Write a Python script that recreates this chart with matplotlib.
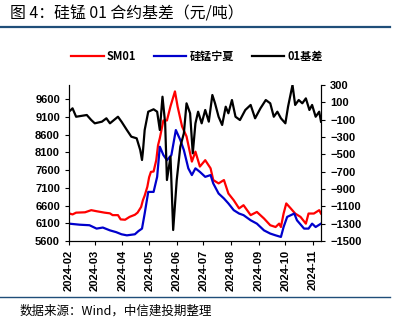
import pandas as pd
import matplotlib
matplotlib.use("Agg")
import matplotlib.pyplot as plt
import matplotlib.dates as mdates
from matplotlib.lines import Line2D

plt.rcParams['font.family'] = ['Liberation Sans', 'Noto Sans CJK SC', 'DejaVu Sans']

# SM01 futures price (left axis)
sm01_dates = ["2024-02-01", "2024-02-05", "2024-02-09", "2024-02-19", "2024-02-26", "2024-03-03",
              "2024-03-12", "2024-03-18", "2024-03-21", "2024-03-27", "2024-03-30", "2024-04-04",
              "2024-04-09", "2024-04-15", "2024-04-18", "2024-04-22", "2024-04-24", "2024-04-26",
              "2024-04-29", "2024-05-01", "2024-05-03", "2024-05-06", "2024-05-09", "2024-05-11",
              "2024-05-13", "2024-05-17", "2024-05-21", "2024-05-25", "2024-05-30", "2024-06-02",
              "2024-06-07", "2024-06-12", "2024-06-18", "2024-06-22", "2024-06-27", "2024-07-03",
              "2024-07-09", "2024-07-12", "2024-07-18", "2024-07-24", "2024-07-29", "2024-08-04",
              "2024-08-10", "2024-08-15", "2024-08-23", "2024-08-30", "2024-09-07", "2024-09-14",
              "2024-09-20", "2024-09-24", "2024-09-26", "2024-09-29", "2024-10-02", "2024-10-07",
              "2024-10-12", "2024-10-18", "2024-10-24", "2024-10-27", "2024-11-02", "2024-11-08",
              "2024-11-10"]
sm01 = [6380, 6350, 6400, 6410, 6470, 6440,
        6400, 6380, 6330, 6330, 6210, 6200,
        6280, 6340, 6400, 6560, 6750, 6880,
        7130, 7400, 7550, 7560, 7880, 8300,
        8500, 9000, 9000, 9400, 9820, 9390,
        8830, 8550, 7840, 8120, 7700, 7880,
        7650, 7320, 7225, 7320, 6940, 6750,
        6520, 6610, 6330, 6420, 6235, 6045,
        5995, 6090, 5995, 6375, 6660, 6520,
        6375, 6280, 6090, 6375, 6375, 6470,
        6375]

# Ningxia silicomanganese spot price (left axis)
spot_dates = ["2024-02-01", "2024-02-13", "2024-02-24", "2024-03-03", "2024-03-10", "2024-03-18",
              "2024-03-25", "2024-03-31", "2024-04-06", "2024-04-15", "2024-04-19", "2024-04-23",
              "2024-04-26", "2024-04-30", "2024-05-06", "2024-05-10", "2024-05-13", "2024-05-17",
              "2024-05-21", "2024-05-26", "2024-05-31", "2024-06-05", "2024-06-09", "2024-06-14",
              "2024-06-18", "2024-06-22", "2024-06-27", "2024-07-03", "2024-07-09", "2024-07-12",
              "2024-07-18", "2024-07-24", "2024-07-29", "2024-08-04", "2024-08-10", "2024-08-15",
              "2024-08-23", "2024-08-30", "2024-09-07", "2024-09-14", "2024-09-20", "2024-09-26",
              "2024-09-29", "2024-10-03", "2024-10-11", "2024-10-14", "2024-10-22", "2024-10-27",
              "2024-10-31", "2024-11-04", "2024-11-10"]
spot = [6090, 6060, 6045, 5950, 5980, 5900,
        5850, 5790, 5760, 5790, 5880, 5950,
        6375, 6985, 6985, 7410, 8260, 8025,
        7880, 8025, 8730, 8450, 8165, 7650,
        7460, 7650, 7550, 7410, 7460, 7225,
        6940, 6800, 6660, 6470, 6375, 6330,
        6185, 6090, 5900, 5810, 5760, 5715,
        5995, 6280, 6375, 6185, 5950, 5950,
        6090, 5995, 6090]

# 01 basis (right axis)
basis_dates = ["2024-02-01", "2024-02-05", "2024-02-09", "2024-02-21", "2024-02-26", "2024-03-01",
               "2024-03-09", "2024-03-14", "2024-03-18", "2024-03-27", "2024-03-31", "2024-04-06",
               "2024-04-11", "2024-04-17", "2024-04-21", "2024-04-23", "2024-04-24", "2024-04-26",
               "2024-04-30", "2024-05-06", "2024-05-10", "2024-05-13", "2024-05-16", "2024-05-19",
               "2024-05-21", "2024-05-25", "2024-05-28", "2024-06-01", "2024-06-05", "2024-06-09",
               "2024-06-12", "2024-06-16", "2024-06-19", "2024-06-22", "2024-06-25", "2024-06-29",
               "2024-07-03", "2024-07-07", "2024-07-11", "2024-07-14", "2024-07-18", "2024-07-22",
               "2024-07-26", "2024-07-29", "2024-08-02", "2024-08-06", "2024-08-11", "2024-08-17",
               "2024-08-23", "2024-08-28", "2024-09-03", "2024-09-09", "2024-09-14", "2024-09-18",
               "2024-09-22", "2024-09-26", "2024-10-01", "2024-10-04", "2024-10-09", "2024-10-12",
               "2024-10-16", "2024-10-20", "2024-10-24", "2024-10-28", "2024-10-31", "2024-11-04",
               "2024-11-08", "2024-11-10"]
basis = [-8, 31, -66, -46, -104, -142,
         -123, -84, -142, -66, -123, -219,
         -296, -315, -450, -565, -470, -219,
         -8, 20, -8, -219, 165, -142,
         -796, -527, -1373, -796, -412, -257,
         89, -26, -488, -142, -8, -142,
         12, -123, 185, 89, -66, -161,
         50, -26, 127, -66, -104, 12,
         70, -84, 31, 127, 89, -66,
         -8, -84, -142, 50, 300, 70,
         127, 89, 146, 12, 70, -66,
         -8, -123]

left_ticks = list(range(5600, 9601, 500))
right_ticks = list(range(-1500, 301, 200))

fig = plt.figure(figsize=(3.96, 3.26), dpi=100)
ax1 = fig.add_axes([0.1742, 0.2607, 0.6364, 0.4785])

ax1.plot(pd.to_datetime(sm01_dates), sm01, color='#FF0000', lw=1.6, label='SM01')
ax1.plot(pd.to_datetime(spot_dates), spot, color='#0000CC', lw=1.6, label='硅锰宁夏')
ax1.set_ylim(5600, 10000)
ax1.set_yticks(left_ticks)
ax1.set_xlim(pd.Timestamp("2024-02-01"), pd.Timestamp("2024-11-10"))

ax2 = ax1.twinx()
ax2.plot(pd.to_datetime(basis_dates), basis, color='black', lw=1.6, label='01基差')
ax2.set_ylim(-1500, 300)
ax2.set_yticks(right_ticks)

ax1.xaxis.set_major_locator(mdates.MonthLocator())
ax1.xaxis.set_major_formatter(mdates.DateFormatter('%Y-%m'))
for lab in ax1.get_xticklabels():
    lab.set_rotation(90)

for ax in (ax1, ax2):
    ax.spines['top'].set_visible(False)
    for s in ax.spines.values():
        s.set_linewidth(0.8)
    ax.tick_params(labelsize=8, length=3, width=0.8)
    for lab in ax.get_xticklabels() + ax.get_yticklabels():
        lab.set_fontweight('bold')

# legend
h1, l1 = ax1.get_legend_handles_labels()
h2, l2 = ax2.get_legend_handles_labels()
leg = fig.legend(h1 + h2, l1 + l2, loc='center', bbox_to_anchor=(0.498, 0.828), ncol=3,
                 frameon=False, handlelength=2.9, columnspacing=1.6, handletextpad=0.3,
                 prop={'family': ['Noto Sans CJK SC'], 'weight': 'bold', 'size': 8})

# title and source
fig.text(0.025, 0.958, '图 4：硅锰 01 合约基差（元/吨）', family=['Noto Sans CJK SC'],
         fontsize=11.4, va='center', ha='left')
fig.add_artist(Line2D([0.0, 0.985], [0.917, 0.917], color='#1F4E79', lw=1.6))
fig.add_artist(Line2D([0.0, 0.985], [0.088, 0.088], color='#1F4E79', lw=1.0))
fig.text(0.05, 0.046, '数据来源：Wind，中信建投期整理', family=['Noto Sans CJK SC'],
         fontsize=9, style='italic', va='center', ha='left')

fig.savefig('out.png', dpi=100)
